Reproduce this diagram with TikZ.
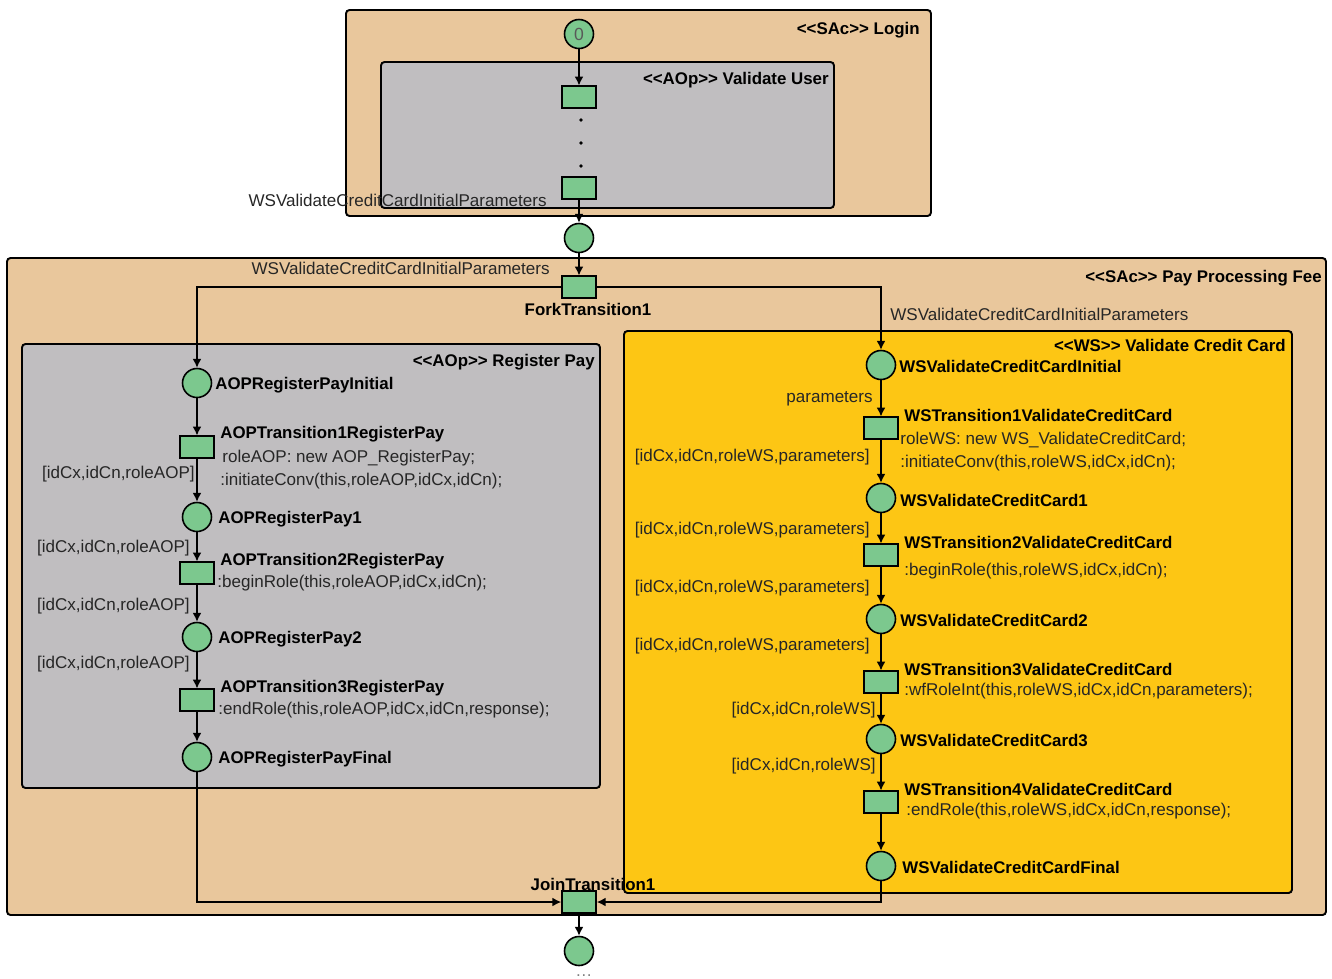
\documentclass[tikz,border=0pt]{standalone}
\usepackage{fontspec}
\setmainfont{Liberation Sans}
\usetikzlibrary{arrows.meta,positioning}
\definecolor{ctan}{RGB}{233,199,156}
\definecolor{cgray}{RGB}{192,190,192}
\definecolor{cyellow}{RGB}{253,198,20}
\definecolor{cgreen}{RGB}{124,200,142}
\newcommand{\stereo}[1]{<\kern0pt<#1>\kern0pt>}
\tikzset{
  petri/.style={x=0.02cm,y=-0.02cm,font=\fontsize{9.7}{11}\selectfont},
  panel/.style={draw,line width=1.1pt,rounded corners=2pt},
  place/.style={circle,draw,line width=0.9pt,fill=cgreen,minimum size=0.58cm,inner sep=0pt},
  trans/.style={rectangle,draw,line width=0.9pt,fill=cgreen,minimum width=0.68cm,minimum height=0.43cm,inner sep=0pt},
  arc/.style={line width=0.8pt,-{Latex[length=5pt,width=5pt]}},
  pname/.style={anchor=west,inner sep=0pt,font=\fontsize{9.6}{11}\selectfont\bfseries},
  ptitle/.style={anchor=east,inner sep=0pt,font=\fontsize{9.6}{11}\selectfont\bfseries},
  code/.style={anchor=west,inner sep=0pt,text=black!85},
  inscr/.style={anchor=east,inner sep=0pt,text=black!85}
}

\begin{document}
\begin{tikzpicture}[petri]
  \useasboundingbox (0,0) rectangle (1332,978);
  % panels
  \draw[panel,fill=ctan]    (346,10) rectangle (931,216);
  \draw[panel,fill=cgray]   (381,62) rectangle (834,208);
  \draw[panel,fill=ctan]    (7,258) rectangle (1326,915);
  \draw[panel,fill=cgray]   (22,344) rectangle (600,788);
  \draw[panel,fill=cyellow] (624,331) rectangle (1292,893);
  \node[ptitle] (tLogin)   at (920,30)   {\stereo{SAc} Login};
  \node[ptitle] (tValUser) at (829,80)   {\stereo{AOp} Validate User};
  \node[ptitle] (tPay)     at (1322,278) {\stereo{SAc} Pay Processing Fee};
  \node[ptitle] (tRegPay)  at (595,362)  {\stereo{AOp} Register Pay};
  \node[ptitle] (tValCC)   at (1286,345) {\stereo{WS} Validate Credit Card};

  % login
  \node[place] (start) at (579,34) {\fontsize{10}{10}\selectfont\color{black!65}0};
  \node[trans] (vuT1) at (579,97) {};
  \foreach \y in {120,143,166} \fill (581,\y) circle (1.1pt);
  \node[trans] (vuT2) at (579,188) {};
  \node[place] (p0) at (579,238) {};
  \node[trans] (fork) at (579,287) {};
  \node[pname,anchor=north] (lFork) at (588,303) {ForkTransition1};
  \node[inscr] (i0) at (547,200) {WSValidateCreditCardInitialParameters};
  \node[inscr] (i1) at (550,268) {WSValidateCreditCardInitialParameters};
  \node[code]  (i2) at (890,314) {WSValidateCreditCardInitialParameters};

  % register pay
  \node[place] (regInit)  at (197,383) {};
  \node[trans] (regT1)    at (197,447) {};
  \node[place] (reg1)     at (197,517) {};
  \node[trans] (regT2)    at (197,573) {};
  \node[place] (reg2)     at (197,637) {};
  \node[trans] (regT3)    at (197,700) {};
  \node[place] (regFinal) at (197,757) {};
  \node[pname] (lRegInit)  at (215,385) {AOPRegisterPayInitial};
  \node[pname] (lRegT1)    at (220,434) {AOPTransition1RegisterPay};
  \node[code]  (cRegT1a)   at (222,458) {roleAOP: new AOP\_RegisterPay;};
  \node[code]  (cRegT1b)   at (220,481) {:initiateConv(this,roleAOP,idCx,idCn);};
  \node[pname] (lReg1)     at (218,519) {AOPRegisterPay1};
  \node[pname] (lRegT2)    at (220,561) {AOPTransition2RegisterPay};
  \node[code]  (cRegT2)    at (217,583) {:beginRole(this,roleAOP,idCx,idCn);};
  \node[pname] (lReg2)     at (218,639) {AOPRegisterPay2};
  \node[pname] (lRegT3)    at (220,688) {AOPTransition3RegisterPay};
  \node[code]  (cRegT3)    at (218,710) {:endRole(this,roleAOP,idCx,idCn,response);};
  \node[pname] (lRegFinal) at (218,759) {AOPRegisterPayFinal};
  \node[inscr] (iReg1) at (195,474) {[idCx,idCn,roleAOP]};
  \node[inscr] (iReg2) at (190,548) {[idCx,idCn,roleAOP]};
  \node[inscr] (iReg3) at (190,606) {[idCx,idCn,roleAOP]};
  \node[inscr] (iReg4) at (190,664) {[idCx,idCn,roleAOP]};

  % validate credit card
  \node[place] (wsInit)  at (881,365) {};
  \node[trans] (wsT1)    at (881,428) {};
  \node[place] (ws1)     at (881,498) {};
  \node[trans] (wsT2)    at (881,555) {};
  \node[place] (ws2)     at (881,619) {};
  \node[trans] (wsT3)    at (881,682) {};
  \node[place] (ws3)     at (881,739) {};
  \node[trans] (wsT4)    at (881,802) {};
  \node[place] (wsFinal) at (881,866) {};
  \node[pname] (lWsInit)  at (899,366) {WSValidateCreditCardInitial};
  \node[pname] (lWsT1)    at (904,415) {WSTransition1ValidateCreditCard};
  \node[code]  (cWsT1a)   at (900,440) {roleWS: new WS\_ValidateCreditCard;};
  \node[code]  (cWsT1b)   at (900,463) {:initiateConv(this,roleWS,idCx,idCn);};
  \node[pname] (lWs1)     at (900,500) {WSValidateCreditCard1};
  \node[pname] (lWsT2)    at (904,542) {WSTransition2ValidateCreditCard};
  \node[code]  (cWsT2)    at (904,571) {:beginRole(this,roleWS,idCx,idCn);};
  \node[pname] (lWs2)     at (900,620) {WSValidateCreditCard2};
  \node[pname] (lWsT3)    at (904,669) {WSTransition3ValidateCreditCard};
  \node[code]  (cWsT3)    at (904,691) {:wfRoleInt(this,roleWS,idCx,idCn,parameters);};
  \node[pname] (lWs3)     at (900,740) {WSValidateCreditCard3};
  \node[pname] (lWsT4)    at (904,789) {WSTransition4ValidateCreditCard};
  \node[code]  (cWsT4)    at (906,811) {:endRole(this,roleWS,idCx,idCn,response);};
  \node[pname] (lWsFinal) at (902,867) {WSValidateCreditCardFinal};
  \node[inscr] (iWs0) at (873,399) {parameters};
  \node[inscr] (iWs1) at (870,457) {[idCx,idCn,roleWS,parameters]};
  \node[inscr] (iWs2) at (870,530) {[idCx,idCn,roleWS,parameters]};
  \node[inscr] (iWs3) at (870,588) {[idCx,idCn,roleWS,parameters]};
  \node[inscr] (iWs4) at (870,646) {[idCx,idCn,roleWS,parameters]};
  \node[inscr] (iWs5) at (876,710) {[idCx,idCn,roleWS]};
  \node[inscr] (iWs6) at (876,766) {[idCx,idCn,roleWS]};

  % join
  \node[trans] (join) at (579,902) {};
  \node[pname,anchor=south] (lJoin) at (593,891) {JoinTransition1};
  \node[place] (pEnd) at (579,951) {};
  \node[text=black!50,anchor=base,inner sep=0pt] (more) at (584,976) {\dots};

  % arcs
  \foreach \a/\b in {start/vuT1,vuT2/p0,p0/fork,regInit/regT1,regT1/reg1,reg1/regT2,
      regT2/reg2,reg2/regT3,regT3/regFinal,wsInit/wsT1,wsT1/ws1,ws1/wsT2,wsT2/ws2,
      ws2/wsT3,wsT3/ws3,ws3/wsT4,wsT4/wsFinal,join/pEnd}
    \draw[arc] (\a) -- (\b);
  \draw[arc] (fork.west) -| (regInit);
  \draw[arc] (fork.east) -| (wsInit);
  \draw[arc] (regFinal) |- (join);
  \draw[arc] (wsFinal) |- (join);
\end{tikzpicture}
\end{document}
